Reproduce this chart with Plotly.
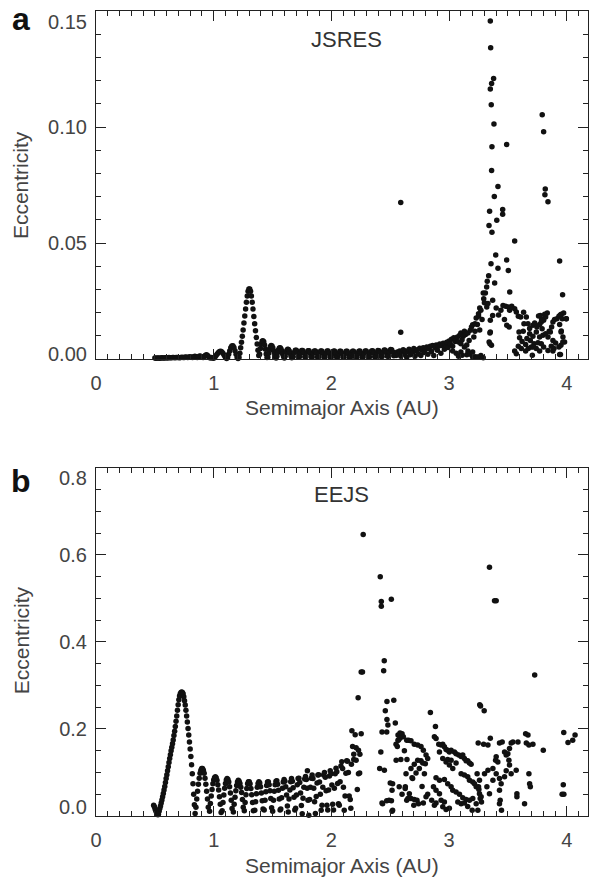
import plotly.graph_objects as go

# ---------------- Panel a (JSRES): (semimajor axis AU, eccentricity) ----------------
a_flat = [(0.50,.0004),(0.51,.0003),(0.52,.0004),(0.53,.0004),(0.54,.0003),(0.55,.0004),(0.56,.0005),(0.57,.0004),
          (0.58,.0004),(0.59,.0005),(0.60,.0005),(0.61,.0004),(0.62,.0006),(0.63,.0005),(0.64,.0005),(0.65,.0006),
          (0.66,.0007),(0.67,.0005),(0.68,.0006),(0.69,.0007),(0.70,.0006),(0.71,.0005),(0.72,.0007),(0.73,.0008),
          (0.74,.0006),(0.75,.0007),(0.76,.0009),(0.77,.0008),(0.78,.0006),(0.79,.0009),(0.80,.0010),(0.81,.0008),
          (0.82,.0007),(0.83,.0010),(0.84,.0012),(0.85,.0010),(0.86,.0007),(0.87,.0009),(0.88,.0013),(0.89,.0012),
          (0.90,.0008),(0.91,.0006),(0.92,.0011),(0.93,.0016),(0.94,.0018),(0.95,.0014),(0.96,.0008),(0.97,.0004),
          (0.98,.0006),(0.99,.0004)]
a_bumps = [(1.00,.0003),(1.01,.0008),(1.02,.0015),(1.03,.0022),(1.04,.0028),(1.05,.0032),(1.06,.0033),(1.07,.0030),
           (1.08,.0024),(1.09,.0015),(1.10,.0007),(1.11,.0002),
           (1.118,.0006),(1.127,.0020),(1.136,.0035),(1.145,.0048),(1.154,.0056),(1.163,.0057),(1.172,.0050),
           (1.181,.0036),(1.190,.0020),(1.199,.0007),(1.207,.0002)]
a_peak = [(1.215,.0006),(1.222,.0025),(1.229,.0048),(1.236,.0072),(1.243,.0098),(1.250,.0125),(1.257,.0155),
          (1.264,.0185),(1.271,.0215),(1.278,.0245),(1.285,.0272),(1.292,.0292),(1.299,.0302),(1.306,.0302),
          (1.313,.0292),(1.320,.0272),(1.327,.0245),(1.334,.0215),(1.341,.0183),(1.348,.0152),(1.355,.0122),
          (1.362,.0093),(1.369,.0065),(1.376,.0038),(1.383,.0015)]
a_ripples = [(1.390,.0020),(1.397,.0045),(1.404,.0065),(1.411,.0076),(1.418,.0079),(1.425,.0074),(1.432,.0060),
             (1.439,.0042),(1.446,.0022),(1.453,.0006),
             (1.460,.0008),(1.467,.0025),(1.474,.0042),(1.481,.0053),(1.488,.0058),(1.495,.0056),(1.502,.0048),
             (1.509,.0036),(1.516,.0022),(1.523,.0010),(1.530,.0004),
             (1.537,.0012),(1.544,.0028),(1.551,.0040),(1.558,.0047),(1.565,.0048),(1.572,.0043),(1.579,.0034),
             (1.586,.0022),(1.593,.0011),(1.600,.0004),
             (1.607,.0012),(1.614,.0027),(1.621,.0037),(1.628,.0042),(1.635,.0041),(1.642,.0035),(1.649,.0025),
             (1.656,.0013),(1.663,.0005),
             (1.675,.0010),(1.684,.0028),(1.693,.0038),(1.702,.0038),(1.711,.0028),(1.720,.0010),
             (1.729,.0010),(1.738,.0027),(1.747,.0037),(1.756,.0037),(1.765,.0027),(1.774,.0010),
             (1.783,.0010),(1.792,.0026),(1.801,.0036),(1.810,.0036),(1.819,.0026),(1.828,.0010),
             (1.837,.0009),(1.846,.0026),(1.855,.0035),(1.864,.0035),(1.873,.0026),(1.882,.0009),
             (1.891,.0009),(1.900,.0025),(1.909,.0034),(1.918,.0035),(1.927,.0025),(1.936,.0009),
             (1.945,.0009),(1.954,.0025),(1.963,.0034),(1.972,.0034),(1.981,.0025),(1.990,.0009),
             (1.999,.0009),(2.008,.0024),(2.017,.0033),(2.026,.0034),(2.035,.0024),(2.044,.0009),
             (2.053,.0009),(2.062,.0024),(2.071,.0033),(2.080,.0033),(2.089,.0024),(2.098,.0009),
             (2.107,.0008),(2.116,.0024),(2.125,.0033),(2.134,.0033),(2.143,.0024),(2.152,.0008),
             (2.161,.0008),(2.170,.0024),(2.179,.0033),(2.188,.0033),(2.197,.0023),(2.206,.0008),
             (2.215,.0008),(2.224,.0024),(2.233,.0033),(2.242,.0034),(2.251,.0024),(2.260,.0009),
             (2.269,.0009),(2.278,.0025),(2.287,.0034),(2.296,.0034),(2.305,.0025),(2.314,.0009),
             (2.323,.0009),(2.332,.0026),(2.341,.0035),(2.350,.0036),(2.359,.0026),(2.368,.0010),
             (2.377,.0010),(2.386,.0027),(2.395,.0037),(2.404,.0036),(2.413,.0027),(2.422,.0011),
             (2.431,.0011),(2.440,.0029),(2.449,.0039),(2.458,.0038),(2.467,.0028),(2.476,.0012),
             (2.485,.0012),(2.494,.0030),(2.503,.0041),(2.512,.0040),(2.521,.0030),(2.530,.0014)]
a_noisy = [(2.55,.0015),(2.56,.0030),(2.57,.0022),(2.58,.0035),(2.59,.0012),(2.60,.0028),(2.61,.0040),(2.62,.0020),
           (2.63,.0035),(2.64,.0008),(2.65,.0030),(2.66,.0042),(2.67,.0018),(2.68,.0032),(2.69,.0025),(2.70,.0045),
           (2.71,.0012),(2.72,.0035),(2.73,.0040),(2.74,.0022),(2.75,.0046),(2.76,.0015),(2.77,.0038),(2.78,.0048),
           (2.79,.0028),(2.80,.0042),(2.81,.0052),(2.82,.0020),(2.83,.0045),(2.84,.0055),(2.85,.0032),(2.86,.0058),
           (2.87,.0015),(2.88,.0048),(2.89,.0060),(2.90,.0038),(2.91,.0055),(2.92,.0065),(2.93,.0025),(2.94,.0058),
           (2.95,.0068),(2.96,.0042),(2.97,.0062),(2.98,.0072),(2.99,.0050),(3.00,.0078),(3.01,.0065),(3.02,.0085),
           (3.03,.0055),(3.04,.0092),(3.05,.0075),(3.06,.0086),(3.07,.0095),(3.08,.0073),(3.09,.0102),(3.06,.0025),
           (3.08,.0012),(3.03,.0035),(3.15,.0018),(3.22,.0010),(3.25,.0008),(3.27,.0015),(3.29,.0005),
           (2.589,.0675),(2.589,.0115)]
a_scatter = [(3.10,.0112),(3.12,.0098),(3.11,.0083),(3.13,.0120),(3.14,.0106),(3.16,.0112),(3.18,.0124),(3.19,.0138),
             (3.20,.0148),(3.22,.0152),(3.23,.0177),(3.24,.0149),(3.25,.0184),(3.25,.0195),(3.26,.0220),(3.27,.0210),
             (3.29,.0285),(3.294,.0260),(3.30,.0243),(3.308,.0285),(3.319,.0310),(3.324,.0335),(3.336,.0359),
             (3.32,.0224),(3.33,.0239),(3.37,.0253),(3.37,.0188),(3.35,.0167),(3.35,.0116),(3.34,.0073),(3.36,.0059),
             (3.10,.0066),(3.13,.0052),(3.16,.0034),(3.18,.0020),(3.20,.0009),(3.24,.0009),(3.10,.0030),(3.11,.0016),
             (3.20,.0030),(3.17,.0080),(3.21,.0095),(3.15,.0060),(3.28,.0170),(3.22,.0120),(3.26,.0125),
             (3.350,.1457),(3.353,.1342),(3.378,.1209),(3.361,.1187),(3.350,.1164),(3.358,.1096),(3.381,.1013),
             (3.364,.0915),(3.361,.0812),(3.415,.0744),(3.384,.0700),(3.344,.0637),(3.455,.0644),(3.455,.0624),
             (3.405,.0598),(3.339,.0575),(3.364,.0546),(3.489,.0925),(3.557,.0509),(3.791,.1053),(3.803,.0979),
             (3.817,.0733),(3.814,.0708),(3.840,.0678),(3.939,.0422),(3.964,.0277),(3.396,.0448),(3.356,.0411),
             (3.415,.0391),(3.489,.0427),(3.503,.0381),(3.387,.0328),(3.515,.0289),
             (3.458,.0231),(3.480,.0227),(3.503,.0224),(3.514,.0210),(3.532,.0227),(3.557,.0217),(3.571,.0203),
             (3.588,.0184),(3.608,.0181),(3.633,.0201),(3.656,.0181),(3.636,.0152),(3.47,.0170),(3.49,.0145),
             (3.51,.0138),(3.347,.0112),(3.347,.0066),(3.557,.0034),(3.571,.0023),(3.44,.0210),(3.42,.0190),
             (3.40,.0220),
             (3.670,.0152),(3.684,.0131),(3.712,.0145),(3.727,.0155),(3.746,.0138),(3.769,.0149),(3.783,.0160),
             (3.803,.0167),(3.820,.0181),(3.834,.0198),(3.812,.0193),(3.775,.0188),(3.786,.0170),(3.741,.0116),
             (3.712,.0098),(3.690,.0080),(3.661,.0088),(3.650,.0063),(3.599,.0092),(3.594,.0116),(3.588,.0055),
             (3.613,.0045),(3.650,.0034),(3.673,.0045),(3.698,.0052),(3.721,.0066),(3.755,.0070),(3.769,.0095),
             (3.797,.0102),(3.820,.0109),(3.840,.0095),(3.860,.0116),(3.871,.0138),(3.882,.0160),(3.896,.0170),
             (3.916,.0174),(3.933,.0184),(3.953,.0193),(3.973,.0198),(3.995,.0174),(3.939,.0149),(3.953,.0121),
             (3.967,.0095),(3.981,.0073),(3.950,.0059),(3.933,.0052),(3.905,.0069),(3.882,.0080),(3.868,.0055),
             (3.840,.0037),(3.803,.0052),(3.783,.0066),(3.769,.0034),(3.707,.0016),(3.712,.0052),(3.684,.0109),
             (3.939,.0019),(3.882,.0034),(3.891,.0045),(3.945,.0190),(3.961,.0174),(3.996,.0174),(3.951,.0116),
             (3.966,.0073),(3.946,.0019),(3.63,.0120),(3.62,.0075),(3.79,.0130),(3.85,.0120),(3.74,.0045),
             (3.76,.0185)]

# ---------------- Panel b (EEJS) ----------------
b_peak = [(0.490,.025),(0.496,.021),(0.502,.016),(0.508,.012),(0.514,.008),(0.520,.005),(0.526,.003),
          (0.530,.004),(0.536,.011),(0.542,.017),(0.548,.023),(0.554,.030),(0.560,.037),(0.566,.044),(0.572,.052),
          (0.578,.060),(0.584,.068),(0.590,.077),(0.596,.086),(0.602,.095),(0.608,.104),(0.614,.113),(0.620,.123),
          (0.626,.132),(0.632,.141),(0.638,.150),(0.644,.158),(0.650,.166),(0.656,.175),(0.662,.185),(0.668,.195),
          (0.674,.206),(0.680,.218),(0.686,.230),(0.692,.243),(0.698,.256),(0.704,.267),(0.710,.276),(0.716,.281),
          (0.722,.284),(0.728,.285),(0.734,.284),(0.740,.281),(0.746,.274),(0.752,.265),(0.758,.255),(0.764,.243),
          (0.770,.230),(0.776,.216),(0.782,.201),(0.788,.186),(0.794,.170),(0.800,.154),(0.806,.137),(0.812,.118),
          (0.818,.097),(0.824,.074),(0.830,.050),(0.836,.026),(0.842,.006)]
b_arches = [(0.849,.020),(0.856,.039),(0.863,.057),(0.870,.073),(0.877,.087),(0.884,.098),(0.891,.105),(0.898,.109),
            (0.905,.109),(0.912,.105),(0.919,.098),(0.926,.087),(0.933,.073),(0.940,.057),(0.947,.039),(0.954,.020),
            (0.965,.011),(0.972,.029),(0.979,.046),(0.986,.061),(0.993,.074),(1.000,.083),(1.007,.088),(1.014,.090),
            (1.021,.088),(1.028,.082),(1.035,.072),(1.042,.060),(1.049,.044),(1.056,.027),(1.063,.008),
            (1.072,.012),(1.079,.031),(1.086,.048),(1.093,.064),(1.100,.075),(1.107,.083),(1.114,.086),(1.121,.084),
            (1.128,.078),(1.135,.067),(1.142,.053),(1.149,.036),(1.156,.017),
            (1.167,.009),(1.174,.027),(1.181,.043),(1.188,.058),(1.195,.070),(1.202,.078),(1.209,.082),(1.216,.080),
            (1.223,.075),(1.230,.066),(1.237,.054),(1.244,.038),(1.251,.020),
            (1.260,.012),(1.267,.031),(1.274,.049),(1.281,.063),(1.288,.074),(1.295,.079),(1.302,.079),(1.309,.074),
            (1.316,.063),(1.323,.049),(1.330,.031),(1.337,.012),
            (1.349,.013),(1.356,.033),(1.363,.051),(1.370,.066),(1.377,.075),(1.384,.079),(1.391,.076),(1.398,.067),
            (1.405,.053),(1.412,.035),(1.419,.016),
            (1.429,.014),(1.436,.036),(1.443,.056),(1.450,.070),(1.457,.078),(1.464,.079),(1.471,.072),(1.478,.058),
            (1.485,.040),(1.492,.019),
            (1.501,.011),(1.508,.036),(1.515,.057),(1.522,.072),(1.529,.080),(1.536,.081),(1.543,.073),(1.550,.059),
            (1.557,.039),(1.564,.014),
            (1.570,.016),(1.577,.042),(1.584,.064),(1.591,.078),(1.598,.084),(1.605,.080),(1.612,.067),(1.619,.048),
            (1.626,.023),
            (1.633,.009),(1.640,.039),(1.647,.060),(1.654,.079),(1.661,.086),(1.668,.080),(1.675,.065),(1.682,.043),
            (1.689,.014),
            (1.696,.018),(1.703,.048),(1.710,.072),(1.717,.086),(1.724,.087),(1.731,.077),(1.738,.053),(1.745,.024),
            (1.752,.005),(1.759,.041),(1.766,.066),(1.773,.085),(1.780,.091),(1.787,.084),(1.794,.064),(1.801,.036),
            (1.796,.104),
            (1.808,.002),(1.815,.038),(1.822,.066),(1.829,.087),(1.836,.094),(1.843,.086),(1.850,.064),(1.857,.033),
            (1.864,.006),(1.871,.045),(1.878,.076),(1.885,.094),(1.892,.095),(1.899,.078),(1.906,.050),(1.913,.013),
            (1.920,.025),(1.927,.066),(1.934,.094),(1.941,.100),(1.948,.089),(1.955,.058),(1.962,.025),
            (1.969,.014),(1.976,.060),(1.983,.092),(1.990,.104),(1.997,.097),(2.004,.071),(2.011,.027),
            (2.018,.014),(2.025,.064),(2.032,.097),(2.039,.110),(2.046,.102),(2.053,.075),(2.060,.028),
            (2.067,.025),(2.074,.079),(2.081,.115),(2.088,.125),(2.095,.109),(2.102,.066),(2.109,.013),
            (2.116,.046),(2.123,.098),(2.130,.127),(2.137,.126),(2.144,.100),(2.151,.046)]
b_scatter = [(2.165,.018),(2.160,.038),(2.174,.196),(2.180,.160),(2.190,.142),(2.190,.130),(2.170,.119),(2.202,.187),
             (2.210,.157),(2.210,.128),(2.220,.061),(2.230,.151),(2.230,.097),(2.242,.142),(2.240,.099),(2.253,.189),
             (2.227,.272),(2.253,.331),(2.264,.331),(2.270,.647),
             (2.415,.550),(2.424,.493),(2.424,.482),(2.509,.498),(2.449,.357),(2.444,.334),
             (2.410,.109),(2.450,.105),(2.420,.147),(2.430,.193),(2.470,.193),(2.458,.242),(2.472,.263),(2.530,.266),
             (2.472,.222),(2.543,.214),(2.480,.209),
             (2.550,.128),(2.520,.074),(2.510,.035),(2.470,.035),(2.430,.030),(2.520,.013),(2.500,.076),(2.515,.059),
             (2.490,.036),(2.435,.028),(2.515,.011),
             (2.549,.165),(2.566,.186),(2.583,.191),(2.600,.189),(2.611,.182),(2.566,.174),(2.583,.179),(2.620,.150),
             (2.640,.174),(2.656,.174),(2.676,.173),(2.704,.165),(2.733,.163),(2.761,.160),(2.781,.151),(2.804,.140),
             (2.818,.132),(2.798,.120),(2.761,.127),(2.733,.128),(2.704,.119),(2.676,.109),(2.642,.130),(2.634,.097),
             (2.628,.067),(2.640,.036),(2.676,.040),(2.704,.038),(2.662,.051),(2.690,.086),(2.719,.099),(2.747,.109),
             (2.776,.122),(2.790,.097),(2.770,.068),(2.781,.030),(2.804,.044),(2.818,.050),(2.727,.036),(2.685,.088),
             (2.576,.067),(2.627,.063),(2.600,.050),(2.650,.040),(2.700,.025),(2.740,.028),(2.590,.130),(2.560,.160),
             (2.570,.175),
             (2.841,.238),(2.884,.206),
             (2.875,.182),(2.889,.178),(2.912,.165),(2.932,.163),(2.946,.165),(2.960,.159),(2.974,.153),(2.988,.151),
             (3.002,.147),(3.017,.151),(3.045,.147),(3.059,.143),(3.082,.140),(3.102,.137),(3.116,.140),(3.130,.132),
             (3.144,.127),(3.158,.127),(3.173,.122),(3.187,.119),
             (2.918,.147),(2.946,.132),(2.974,.124),(3.002,.117),(3.031,.109),(2.988,.130),(3.017,.128),(3.059,.122),
             (3.102,.097),(3.130,.094),(3.158,.090),(3.173,.082),(3.201,.078),(3.216,.074),(3.230,.067),
             (2.889,.088),(2.918,.082),(2.960,.084),(2.988,.074),(3.031,.059),(3.017,.067),(3.059,.055),(3.088,.050),
             (3.116,.042),(3.144,.038),(3.173,.036),(3.201,.040),(3.230,.028),(3.258,.051),(3.253,.061),(3.264,.040),
             (3.275,.032),
             (2.918,.051),(2.889,.059),(2.867,.067),(2.889,.030),(2.946,.021),(2.974,.015),(3.002,.018),(2.932,.036),
             (2.960,.032),(3.074,.032),(3.102,.028),(3.130,.030),(3.158,.022),(3.196,.013),(3.244,.013),(2.852,.036),
             (2.875,.025),
             (3.247,.168),(3.293,.165),(3.330,.163),(3.350,.179),(3.372,.109),(3.395,.128),(3.400,.136),(3.414,.124),
             (3.400,.097),(3.428,.086),(3.442,.074),(3.428,.059),(3.434,.036),(3.445,.013),(3.428,.168),(3.451,.170),
             (3.471,.147),(3.485,.140),(3.499,.143),(3.513,.155),(3.527,.168),(3.542,.170),(3.508,.128),(3.513,.117),
             (3.485,.104),(3.471,.090),(3.527,.097),(3.570,.105),(3.576,.051),(3.576,.044),(3.641,.028),(3.650,.189),
             (3.670,.186),(3.678,.163),(3.712,.165),(3.656,.168),(3.678,.097),(3.684,.074),(3.690,.067),(3.585,.170),
             (3.301,.097),(3.330,.105),(3.321,.067),(3.372,.082),(3.343,.051),(3.428,.028),(3.238,.097),(3.258,.082),
             (3.250,.067),(3.272,.044),
             (3.260,.256),(3.267,.253),(3.298,.242),(3.343,.572),(3.386,.495),(3.400,.495),(3.727,.324),(3.800,.151),
             (3.974,.192),(4.010,.169),(4.050,.174),(4.070,.186),(3.970,.072),(3.960,.050),(3.975,.050)]

x_ticks = [0, 1, 2, 3, 4]
a_yticks = [0.00, 0.05, 0.10, 0.15]
a_ylabels = ["0.00", "0.05", "0.10", "0.15"]
b_yticks = [0.0, 0.2, 0.4, 0.6, 0.8]
b_ylabels = ["0.0", "0.2", "0.4", "0.6", "0.8"]

a_pts = a_flat + a_bumps + a_peak + a_ripples + a_noisy + a_scatter
b_pts = b_peak + b_arches + b_scatter

DOT = "#111111"
TXT = "#444444"
AX = "#222222"
FONT = "Liberation Sans, Arial, Helvetica, sans-serif"
XR = [0, 4.18]
A_YR = [0, 0.15]
B_YR = [0, 0.8]

fig = go.Figure()
fig.add_trace(go.Scatter(x=[p[0] for p in a_pts], y=[p[1] for p in a_pts], mode="markers",
                         marker=dict(size=5.5, color=DOT, line=dict(width=0)),
                         xaxis="x", yaxis="y", cliponaxis=False, showlegend=False, hoverinfo="skip"))
fig.add_trace(go.Scatter(x=[p[0] for p in b_pts], y=[p[1] for p in b_pts], mode="markers",
                         marker=dict(size=5.5, color=DOT, line=dict(width=0)),
                         xaxis="x2", yaxis="y2", cliponaxis=False, showlegend=False, hoverinfo="skip"))
# invisible anchors so that the mirrored (top / right) tick axes get drawn
fig.add_trace(go.Scatter(x=[x_ticks[0]], y=[a_yticks[0]], mode="markers", marker=dict(opacity=0),
                         xaxis="x3", yaxis="y3", showlegend=False, hoverinfo="skip"))
fig.add_trace(go.Scatter(x=[x_ticks[0]], y=[b_yticks[0]], mode="markers", marker=dict(opacity=0),
                         xaxis="x4", yaxis="y4", showlegend=False, hoverinfo="skip"))

def xax(anchor, domain, labels=True, side="bottom", overlay=None):
    d = dict(domain=domain, anchor=anchor, range=XR, tickvals=x_ticks, ticktext=[str(t) for t in x_ticks],
             ticks="inside", ticklen=10, tickwidth=1, tickcolor=AX, side=side,
             minor=dict(ticks="inside", ticklen=5, dtick=0.1, tickcolor=AX, tickwidth=1, showgrid=False),
             showline=labels, linecolor=AX, linewidth=1, mirror=labels, showgrid=False, zeroline=False,
             showticklabels=labels, tickfont=dict(family=FONT, size=20, color=TXT), ticklabelstandoff=6)
    if overlay:
        d["overlaying"] = overlay
    return d

def yax(anchor, domain, rng, vals, labs, minor, labels=True, side="left", overlay=None):
    # the end labels are drawn as annotations, nudged inward like the original
    text = [""] + labs[1:-1] + [""]
    d = dict(domain=domain, anchor=anchor, range=rng, tickvals=vals, ticktext=text,
             ticks="inside", ticklen=10, tickwidth=1, tickcolor=AX, side=side,
             minor=dict(ticks="inside", ticklen=5, dtick=minor, tickcolor=AX, tickwidth=1, showgrid=False),
             showline=labels, linecolor=AX, linewidth=1, mirror=labels, showgrid=False, zeroline=False,
             showticklabels=labels, tickfont=dict(family=FONT, size=20, color=TXT), ticklabelstandoff=4)
    if overlay:
        d["overlaying"] = overlay
    return d

def end_label(text, y):
    return dict(text=text, x=-0.0163, y=y, xref="paper", yref="paper", showarrow=False,
                font=dict(family=FONT, size=20, color=TXT), xanchor="right", yanchor="middle", borderpad=0)

fig.update_layout(
    width=589, height=877, margin=dict(l=96, r=1, t=11, b=61),
    paper_bgcolor="white", plot_bgcolor="white",
    xaxis=xax("y", [0, 1]),
    yaxis=yax("x", [0.5677, 1.0], A_YR, a_yticks, a_ylabels, 0.01),
    xaxis2=xax("y2", [0, 1]),
    yaxis2=yax("x2", [0, 0.4323], B_YR, b_yticks, b_ylabels, 0.05),
    xaxis3=xax("y3", [0, 1], labels=False, side="top", overlay="x"),
    yaxis3=yax("x3", [0.5677, 1.0], A_YR, a_yticks, a_ylabels, 0.01, labels=False, side="right", overlay="y"),
    xaxis4=xax("y4", [0, 1], labels=False, side="top", overlay="x2"),
    yaxis4=yax("x4", [0, 0.4323], B_YR, b_yticks, b_ylabels, 0.05, labels=False, side="right", overlay="y2"),
    annotations=[
        end_label(a_ylabels[-1], 0.9863), end_label(a_ylabels[0], 0.5740),
        end_label(b_ylabels[-1], 0.4199), end_label(b_ylabels[0], 0.0110),
        dict(text="<b>a</b>", x=-0.152, y=0.99, xref="paper", yref="paper", showarrow=False,
             font=dict(family=FONT, size=32, color="#111"), xanchor="center", yanchor="middle"),
        dict(text="<b>b</b>", x=-0.152, y=0.416, xref="paper", yref="paper", showarrow=False,
             font=dict(family=FONT, size=32, color="#111"), xanchor="center", yanchor="middle"),
        dict(text="JSRES", x=0.510, y=0.964, xref="paper", yref="paper", showarrow=False,
             font=dict(family=FONT, size=22, color="#333"), xanchor="center", yanchor="middle"),
        dict(text="EEJS", x=0.498, y=0.400, xref="paper", yref="paper", showarrow=False,
             font=dict(family=FONT, size=22, color="#333"), xanchor="center", yanchor="middle"),
        dict(text="Semimajor Axis (AU)", x=0.5, y=0.507, xref="paper", yref="paper", showarrow=False,
             font=dict(family=FONT, size=21, color=TXT), xanchor="center", yanchor="middle"),
        dict(text="Semimajor Axis (AU)", x=0.5, y=-0.0609, xref="paper", yref="paper", showarrow=False,
             font=dict(family=FONT, size=21, color=TXT), xanchor="center", yanchor="middle"),
        dict(text="Eccentricity", x=-0.152, y=0.784, xref="paper", yref="paper", showarrow=False, textangle=-90,
             font=dict(family=FONT, size=21, color=TXT), xanchor="center", yanchor="middle"),
        dict(text="Eccentricity", x=-0.152, y=0.2186, xref="paper", yref="paper", showarrow=False, textangle=-90,
             font=dict(family=FONT, size=21, color=TXT), xanchor="center", yanchor="middle"),
    ],
)

fig.write_html("out.html")
